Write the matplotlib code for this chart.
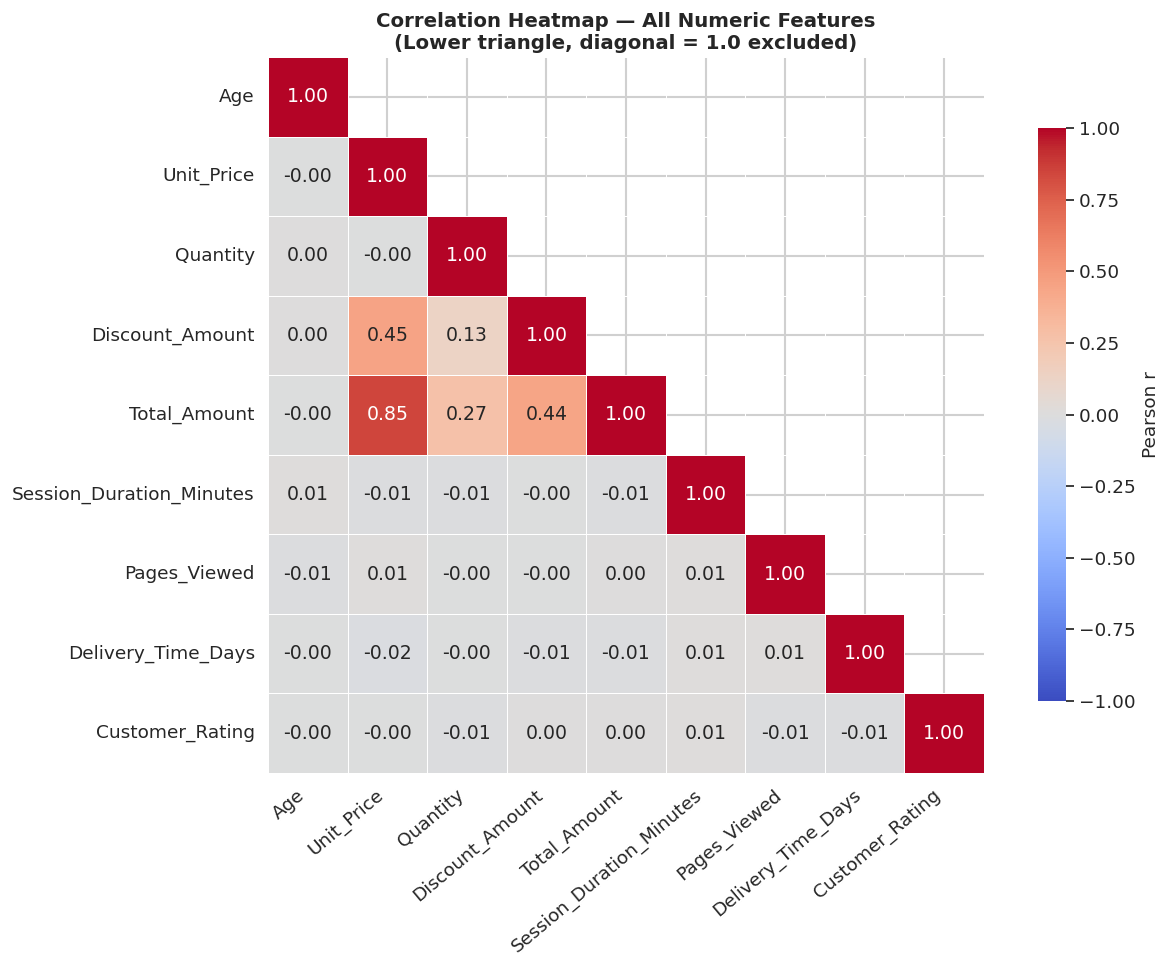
import numpy as np
import pandas as pd
import matplotlib
matplotlib.use("Agg")
import matplotlib.pyplot as plt
import seaborn as sns

features = ["Age", "Unit_Price", "Quantity", "Discount_Amount", "Total_Amount",
            "Session_Duration_Minutes", "Pages_Viewed", "Delivery_Time_Days",
            "Customer_Rating"]

# lower triangle rows (tiny +/- keeps the sign of 0.00)
row_age = [1.00]
row_unit_price = [-0.003, 1.00]
row_quantity = [0.003, -0.003, 1.00]
row_discount = [0.003, 0.45, 0.13, 1.00]
row_total = [-0.003, 0.85, 0.27, 0.44, 1.00]
row_session = [0.01, -0.01, -0.01, -0.003, -0.01, 1.00]
row_pages = [-0.01, 0.01, -0.003, -0.003, 0.003, 0.01, 1.00]
row_delivery = [-0.003, -0.02, -0.003, -0.01, -0.01, 0.01, 0.01, 1.00]
row_rating = [-0.003, -0.003, -0.01, 0.003, 0.003, 0.01, -0.01, -0.01, 1.00]

rows = [row_age, row_unit_price, row_quantity, row_discount, row_total,
        row_session, row_pages, row_delivery, row_rating]

n = len(features)
corr = np.zeros((n, n))
for i, r in enumerate(rows):
    for j, v in enumerate(r):
        corr[i, j] = v
        corr[j, i] = v
corr = pd.DataFrame(corr, index=features, columns=features)

sns.set_theme(style="whitegrid", font_scale=1.15)
plt.rcParams['font.family'] = ['DejaVu Sans']

fig = plt.figure(figsize=(11.73, 9.68), dpi=100)
ax = fig.add_axes([268 / 1173, 1 - 773 / 968, 716 / 1173, 716 / 968])
cax = fig.add_axes([1038 / 1173, 1 - 701 / 968, 28 / 1173, 573 / 968])

mask = np.triu(np.ones((n, n), dtype=bool), k=1)
sns.heatmap(corr, mask=mask, cmap="coolwarm", vmin=-1, vmax=1, center=0,
            annot=True, fmt=".2f", linewidths=0.5, linecolor="white",
            square=True, ax=ax, cbar_ax=cax,
            cbar_kws={"label": "Pearson r"}, annot_kws={"size": 13.6})
ax.set_axisbelow(True)
ax.grid(True, color="#d0d0d0", linewidth=1.5)
for s in ax.spines.values():
    s.set_visible(False)
ax.set_title("Correlation Heatmap — All Numeric Features\n(Lower triangle, diagonal = 1.0 excluded)",
             fontsize=14.2, fontweight="bold", pad=6)
ax.set_xticklabels(ax.get_xticklabels(), rotation=40, ha="right", fontsize=13.3)
ax.set_yticklabels(ax.get_yticklabels(), rotation=0, fontsize=13.3)
cax.tick_params(labelsize=13.3)
cax.set_ylabel("Pearson r", fontsize=13.3)
for s in cax.spines.values():
    s.set_visible(False)

fig.savefig("out.png", dpi=100)
